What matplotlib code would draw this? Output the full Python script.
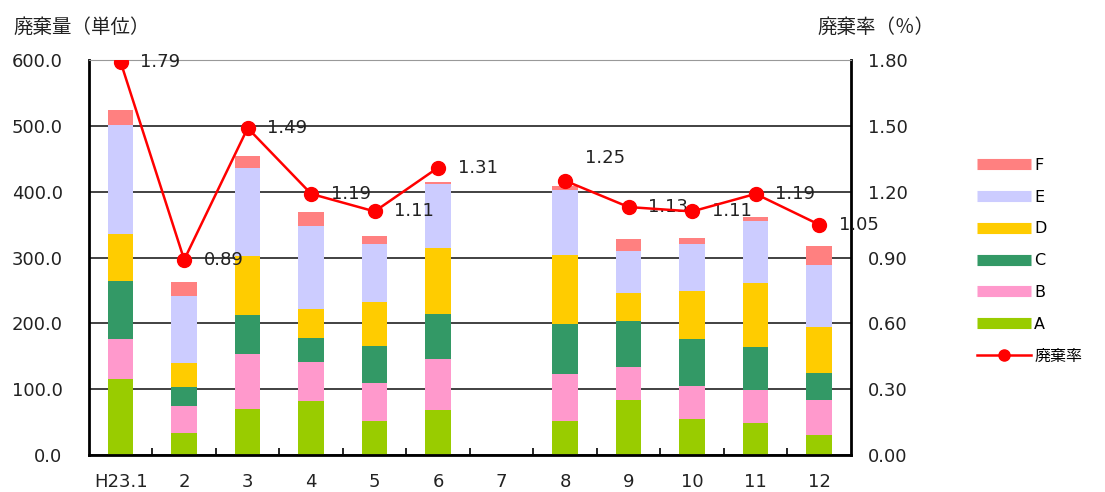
import numpy as np
import matplotlib
matplotlib.use("Agg")
import matplotlib.pyplot as plt
from matplotlib.lines import Line2D

plt.rcParams["font.family"] = ["DejaVu Sans", "Noto Sans CJK JP"]

MONTHS = ["H23.1", "2", "3", "4", "5", "6", "7", "8", "9", "10", "11", "12"]
SERIES = ["A", "B", "C", "D", "E", "F"]
A = [115, 33, 70, 82, 51, 68, 0, 51, 84, 55, 49, 31]
B = [61, 41, 84, 60, 58, 78, 0, 72, 49, 50, 49, 53]
C = [89, 29, 58, 35, 57, 68, 0, 76, 70, 71, 66, 41]
D = [70, 37, 90, 45, 66, 100, 0, 105, 43, 73, 97, 70]
E = [167, 101, 134, 126, 88, 97, 0, 99, 64, 71, 94, 93]
F = [22, 22, 18, 21, 12, 3, 0, 6, 18, 10, 7, 30]
RATE = [1.79, 0.89, 1.49, 1.19, 1.11, 1.31, np.nan, 1.25, 1.13, 1.11, 1.19, 1.05]

COLORS = ["#99CC00", "#FF99CC", "#339966", "#FFCC00", "#CCCCFF", "#FF8080"]

fig = plt.figure(figsize=(11.05, 4.92), dpi=100)
ax = fig.add_axes([0.0805, 0.0752, 0.6895, 0.8028])
x = np.arange(len(MONTHS))

bottom = np.zeros(len(MONTHS))
for vals, color in zip([A, B, C, D, E, F], COLORS):
    ax.bar(x, vals, width=0.4, bottom=bottom, color=color, zorder=2)
    bottom += np.array(vals)

ax.set_xlim(-0.5, len(MONTHS) - 0.5)
ax.set_ylim(0, 600)
ax.set_yticks(np.arange(0, 601, 100))
ax.set_yticklabels([f"{v:.1f}" for v in np.arange(0, 601, 100)])
ax.set_xticks(x)
ax.set_xticklabels(MONTHS)
ax.set_xticks(np.arange(0.5, len(MONTHS) - 1, 1), minor=True)
ax.tick_params(axis="x", which="major", length=0, pad=13, labelsize=13, colors="#222222")
ax.tick_params(axis="x", which="minor", length=5, width=1.2, direction="in")
ax.tick_params(axis="y", length=0, pad=19, labelsize=13, colors="#222222")
ax.yaxis.grid(True, color="#333333", lw=1.3, zorder=1)
for s in ["left", "bottom", "right"]:
    ax.spines[s].set_linewidth(2)
ax.spines["top"].set_color("#999999")

ax2 = ax.twinx()
ax2.set_ylim(0, 1.8)
ax2.set_yticks(np.arange(0, 1.81, 0.3))
ax2.set_yticklabels([f"{v:.2f}" for v in np.arange(0, 1.81, 0.3)])
ax2.tick_params(axis="y", length=0, pad=12, labelsize=13, colors="#222222")
for s in ax2.spines.values():
    s.set_visible(False)
ax2.plot(x, RATE, color="#FF0000", lw=1.8, marker="o", markersize=10, zorder=5)
for xi, r in zip(x, RATE):
    if np.isnan(r):
        continue
    dy = 16 if xi == 7 else 0
    ax2.annotate(f"{r:.2f}", (xi, r), xytext=(14, dy), textcoords="offset points",
                 ha="left", va="center", fontsize=13, color="#222222")

fig.text(0.012, 0.945, "廃棄量（単位）", fontsize=14, ha="left", va="center", color="#222222")
fig.text(0.740, 0.945, "廃棄率（％）", fontsize=14, ha="left", va="center", color="#222222")

handles = [Line2D([], [], color=c, lw=8, solid_capstyle="butt") for c in COLORS[::-1]]
handles.append(Line2D([], [], color="#FF0000", lw=1.8, marker="o", markersize=8))
labels = SERIES[::-1] + ["廃棄率"]
fig.legend(handles, labels, loc="center left", bbox_to_anchor=(0.878, 0.47),
           frameon=False, fontsize=11.5, handlelength=3.4, handletextpad=0.2,
           labelspacing=1.05, borderaxespad=0)

fig.savefig("out.png", dpi=100)
